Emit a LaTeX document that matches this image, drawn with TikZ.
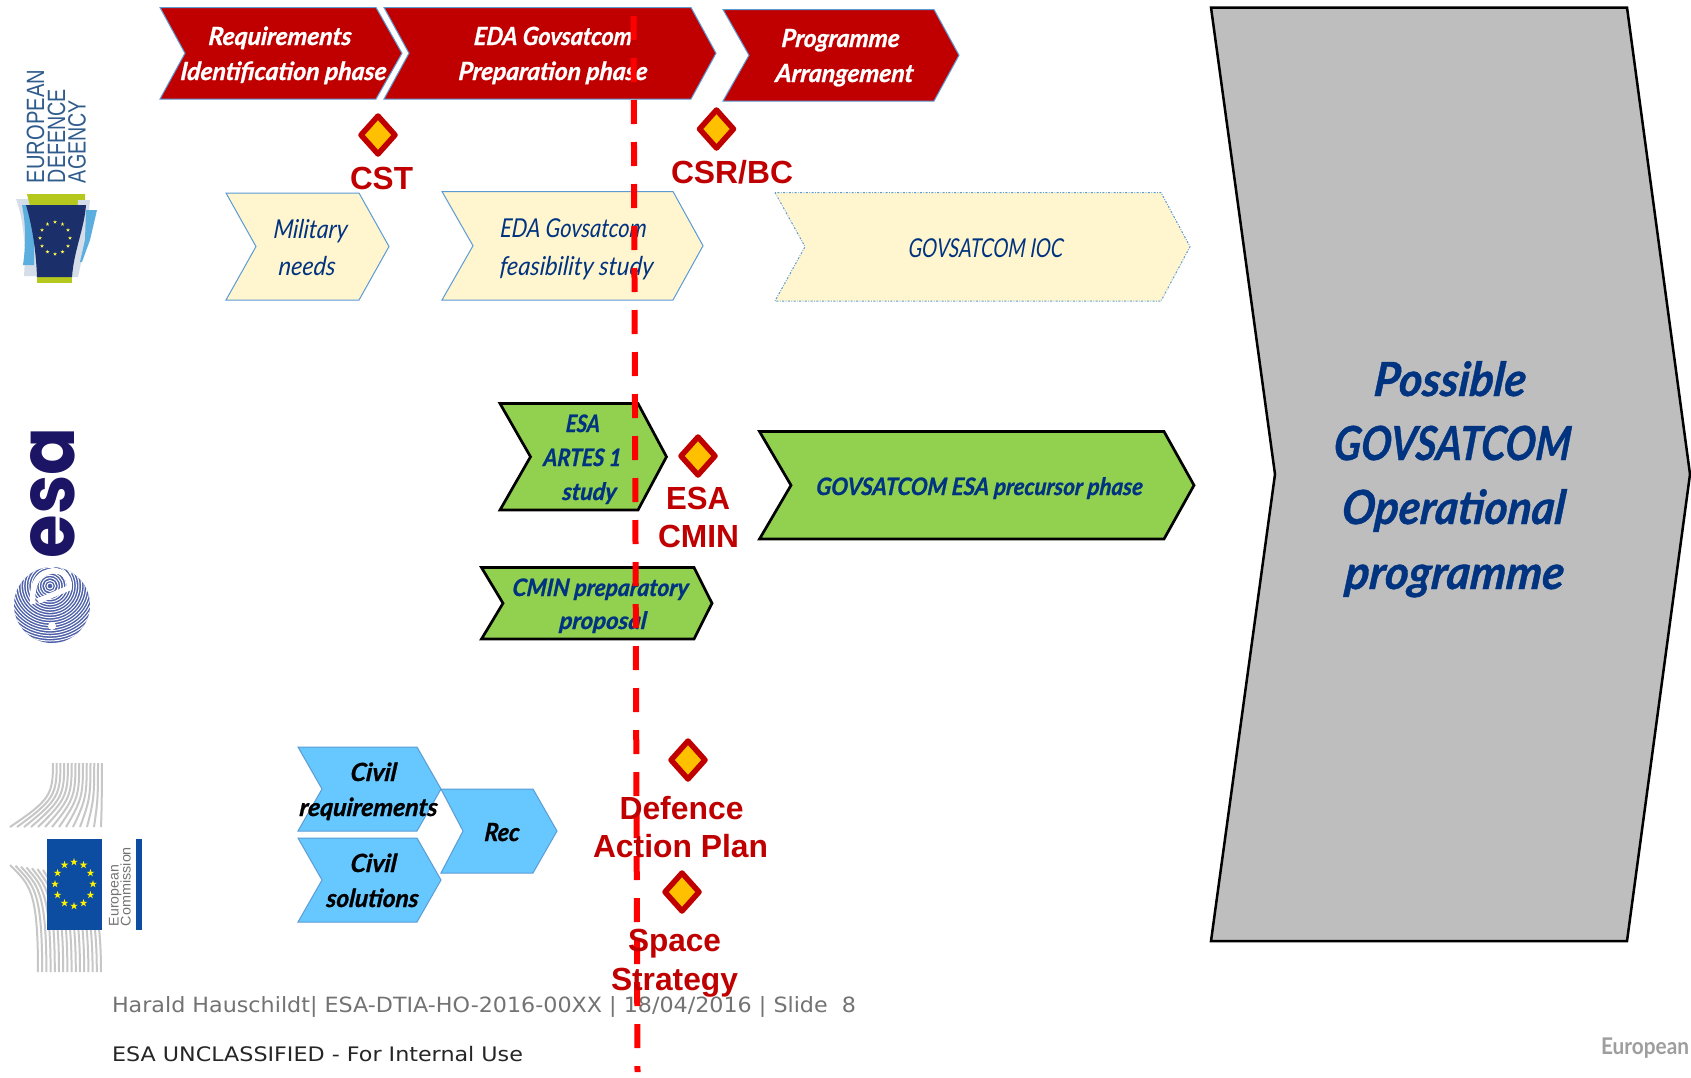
\documentclass[tikz,border=0pt]{standalone}
\usepackage{fontspec}
\usepackage{graphicx}
\setmainfont{Liberation Sans}
\newfontfamily\condf[ItalicFeatures={FakeSlant=0.1},BoldItalicFeatures={FakeSlant=0.1,FakeBold=0.9}]{Lato}
\newfontfamily\footf{DejaVu Sans}
\newfontfamily\esaf{Poppins}
\definecolor{eured}{HTML}{C00000}
\definecolor{navyt}{HTML}{003380}
\definecolor{cream}{HTML}{FFF5CE}
\definecolor{greenf}{HTML}{92D050}
\definecolor{skyf}{HTML}{66C8FF}
\definecolor{thinblue}{HTML}{5B9BD5}
\definecolor{amber}{HTML}{FFC000}
\definecolor{greyf}{HTML}{BEBEBE}
\definecolor{esanavy}{HTML}{1C1464}
\definecolor{esablue}{HTML}{4C5FA8}
\definecolor{ecblue}{HTML}{0C4DA2}
\definecolor{edatext}{HTML}{2F5C8C}
\definecolor{edanavy}{HTML}{1B2F6B}
\definecolor{edagreen}{HTML}{B5C81E}
\definecolor{edasky}{HTML}{5BAEDD}
\definecolor{edapale}{HTML}{D5DDE8}
\tikzset{
 redchev/.style={fill=eured,draw=thinblue,line width=1pt,line join=miter},
 creamchev/.style={fill=cream,draw=thinblue,line width=1pt,line join=miter},
 creamdot/.style={fill=cream,draw=thinblue,line width=1pt,dash pattern=on 2pt off 1.5pt on 0.7pt off 1.5pt},
 greenchev/.style={fill=greenf,draw=black,line width=2.7pt,line join=miter},
 skychev/.style={fill=skyf,draw=thinblue,line width=1pt,line join=miter},
 greychev/.style={fill=greyf,draw=black,line width=2.5pt,line join=miter},
 milestone/.style={fill=amber,draw=eured,line width=5.5pt,line join=round},
 txt/.style={anchor=base,inner sep=0pt,outer sep=0pt},
 wbi/.style={txt,text=white,font=\condf\bfseries\itshape\fontsize{25}{25}\selectfont},
 nvi/.style={txt,text=navyt,font=\condf\itshape\fontsize{26}{26}\selectfont},
 nbi/.style={txt,text=navyt,font=\condf\bfseries\itshape\fontsize{24}{24}\selectfont},
 kbi/.style={txt,text=black,font=\condf\bfseries\itshape\fontsize{25}{25}\selectfont},
 bigt/.style={txt,text=navyt,font=\condf\bfseries\itshape\fontsize{47}{47}\selectfont},
 redl/.style={txt,text=eured,font=\bfseries\fontsize{32}{32}\selectfont},
 foot/.style={txt,anchor=base west,font=\footf\fontsize{21}{21}\selectfont},
 logot/.style={inner sep=0pt,outer sep=0pt,anchor=base west,rotate=90},
 deadline/.style={draw=red,line width=6pt,dash pattern=on 24pt off 18pt},
 ecline/.style={draw=black!22,line width=2pt},
}
% style left notch topright tip top bottom
\newcommand\chev[7]{\path[#1] (#2,#6) -- (#3,{(#6+#7)/2}) -- (#2,#7) -- (#4,#7) -- (#5,{(#6+#7)/2}) -- (#4,#6) -- cycle;}
% name style width cx baseline text
\newcommand\tl[6]{\node[#2] (#1) at (#4,#5) {\resizebox{#3pt}{\height}{#6}};}
\newcommand\mstone[3]{\path[milestone] (#2,#3-19) -- (#2+17,#3) -- (#2,#3+19) -- (#2-17,#3) -- cycle; \coordinate (#1) at (#2,#3);}
\newcommand\estar[4]{\fill[#4] ({#1},{#2}) +(90:#3pt) -- +(234:#3pt) -- +(18:#3pt) -- +(162:#3pt) -- +(306:#3pt) -- cycle;}
\begin{document}
\begin{tikzpicture}[x=1pt,y=-1pt]
\useasboundingbox (0,0) rectangle (1691,1077);
\fill[white] (0,0) rectangle (1691,1077);

% ---- EDA logo
\node[logot,text=edatext,font=\fontsize{25}{25}\selectfont] (edaa) at (44,183) {\resizebox{113pt}{\height}{EUROPEAN}};
\node[logot,text=edatext,font=\fontsize{25}{25}\selectfont] (edab) at (65,183) {\resizebox{94pt}{\height}{DEFENCE}};
\node[logot,text=edatext,font=\fontsize{25}{25}\selectfont] (edac) at (85.5,183) {\resizebox{83pt}{\height}{AGENCY}};
\fill[edapale] (16,199) -- (34,199) -- (38,276) -- (24,276) .. controls (26,250) and (24,220) .. cycle;
\fill[edasky] (22,205) -- (34,205) -- (34,265) -- (23,265) .. controls (26,245) and (26,225) .. cycle;
\fill[edagreen] (27,194) -- (85,194) -- (85,206) -- (30,206) -- cycle;
\fill[edagreen] (37,270) -- (72,270) -- (72,283) -- (37,283) -- cycle;
\fill[edapale] (78,200) -- (90,200) -- (86,240) -- (78,277) -- (70,277) -- (76,240) -- cycle;
\fill[edasky] (86,210) -- (97,210) -- (90,240) -- (82,262) -- (80,262) -- (85,240) -- cycle;
\fill[edanavy] (26,205) -- (86,205) .. controls (84,230) and (74,250) .. (72,277) -- (37,277) .. controls (36,250) and (32,225) .. cycle;
\foreach \a in {0,30,...,330} {\estar{55+15*cos(\a)}{238+16*sin(\a)}{2}{yellow!70!white}}

% ---- ESA logo
\node[logot,text=esanavy,font=\esaf\bfseries\fontsize{60}{60}\selectfont] (esaw) at (74,558) {\resizebox{131pt}{44pt}{esa}};
\begin{scope}
\clip (52,605) circle [radius=38pt];
\fill[esablue] (14,565) rectangle (90,645);
\foreach \r in {3,5.6,...,70} {\draw[white,line width=1pt] (50,586) circle [radius=\r pt];}
\draw[white,line width=5.5pt] (38,601) -- (69,588) .. controls (71,574) and (58,568) .. (48,572) .. controls (36,575) and (31,588) .. (33,604);
\fill[white] (52,626) circle [radius=4pt];
\fill[white] (64,562) -- (72,562) -- (74,572) -- (70,574) -- cycle;
\end{scope}

% ---- EC logo
\foreach \i in {0,...,13} {\draw[ecline] (53+3.75*\i,763) .. controls (53+3.75*\i,795) and (50+4*\i,800) .. (10+7*\i,827);}
\foreach \i in {0,...,15} {\draw[ecline] (10+5.5*\i,865+0.8*\i) .. controls (30+3.6*\i,885) and (38+4.2*\i,890) .. (38+4.2*\i,972);}
\fill[ecblue] (47,839) rectangle (102,930);
\fill[ecblue] (136,839) rectangle (142,930);
\foreach \a in {0,30,...,330} {\estar{74+19*cos(\a)}{884+22*sin(\a)}{4}{yellow}}
\node[logot,text=black!55,font=\fontsize{14}{14}\selectfont] (eca) at (118.5,926) {\resizebox{61pt}{\height}{European}};
\node[logot,text=black!55,font=\fontsize{14}{14}\selectfont] (ecb) at (130.5,926) {\resizebox{79pt}{\height}{Commission}};

% ---- chevrons
\chev{redchev}{160}{185}{376}{402}{7.5}{99}
\chev{redchev}{384}{409}{691}{716}{7.5}{99}
\chev{redchev}{723}{749}{934}{959}{9.5}{101}
\chev{creamchev}{226}{256}{359}{389}{193}{300}
\chev{creamchev}{442}{473}{673}{703}{191.5}{300}
\chev{creamdot}{775}{805}{1161}{1190}{192.5}{301}
\chev{greenchev}{500}{530.5}{638}{666.5}{403.5}{510}
\chev{greenchev}{759.5}{791}{1164}{1194}{431.5}{539}
\chev{greenchev}{481.5}{503}{694}{712}{567.5}{639}
\chev{skychev}{298}{322}{417}{441}{747}{831}
\chev{skychev}{298}{322}{417}{441}{838}{922}
\chev{skychev}{441}{463}{533}{557}{789}{873}
\chev{greychev}{1211}{1275}{1627}{1690}{7.5}{941}

% ---- chevron texts
\tl{t1}{wbi}{143}{279.5}{45}{Requirements}
\tl{t2}{wbi}{206}{283}{80}{Identification phase}
\tl{t3}{wbi}{158}{552.5}{45}{EDA Govsatcom}
\tl{t4}{wbi}{189}{552.5}{80}{Preparation phase}
\tl{t5}{wbi}{118}{840}{47}{Programme}
\tl{t6}{wbi}{138}{844}{82}{Arrangement}
\tl{t7}{nvi}{74}{310}{238}{Military}
\tl{t8}{nvi}{57}{306.5}{275}{needs}
\tl{t9}{nvi}{146.5}{573}{237}{EDA Govsatcom}
\tl{t10}{nvi}{153.5}{576}{275}{feasibility study}
\tl{t11}{nvi}{155}{985.5}{257}{GOVSATCOM IOC}
\tl{t12}{nbi}{34}{582.5}{432}{ESA}
\tl{t13}{nbi}{78}{582}{466}{ARTES 1}
\tl{t14}{nbi}{54}{589}{500}{study}
\tl{t15}{nbi}{326.5}{979}{495}{GOVSATCOM ESA precursor phase}
\tl{t16}{nbi}{176}{600}{596}{CMIN preparatory}
\tl{t17}{nbi}{87}{602.5}{629}{proposal}
\tl{t18}{kbi}{46}{373}{781}{Civil}
\tl{t19}{kbi}{138}{368}{816}{requirements}
\tl{t20}{kbi}{46}{373}{872}{Civil}
\tl{t21}{kbi}{92}{372}{907}{solutions}
\tl{t22}{kbi}{35}{501.5}{841}{Rec}
\tl{t23}{bigt}{152}{1449}{396}{Possible}
\tl{t24}{bigt}{237}{1451.5}{460}{GOVSATCOM}
\tl{t25}{bigt}{223}{1452.5}{524}{Operational}
\tl{t26}{bigt}{219}{1453.5}{589}{programme}

% ---- footer
\node[foot,text=black!55] (f1) at (112,1012) {\resizebox{744pt}{\height}{Harald Hauschildt| ESA-DTIA-HO-2016-00XX | 18/04/2016 | Slide~~8}};
\node[foot,text=black!85,font=\footf\fontsize{20}{20}\selectfont] (f2) at (112,1061) {\resizebox{411pt}{\height}{ESA UNCLASSIFIED - For Internal Use}};
\node[foot,text=black!38,font=\condf\bfseries\fontsize{23}{23}\selectfont] (f3) at (1601,1054) {\resizebox{88pt}{\height}{European}};

% ---- deadline
\coordinate (dtop) at (633.5,16);
\coordinate (dbot) at (637.5,1072);
\draw[deadline] (dtop) -- (dbot);

% ---- milestones and labels
\mstone{m1}{378}{135}
\mstone{m2}{716.5}{129}
\mstone{m3}{698}{456}
\mstone{m4}{688}{760}
\mstone{m5}{682}{892}
\tl{l1}{redl}{63}{381.5}{189.5}{CST}
\tl{l2}{redl}{122}{732}{183}{CSR/BC}
\tl{l3}{redl}{64}{698}{509}{ESA}
\tl{l4}{redl}{81}{698.5}{547}{CMIN}
\tl{l5}{redl}{124}{681.5}{819}{Defence}
\tl{l6}{redl}{175}{680.5}{857}{Action Plan}
\tl{l7}{redl}{93}{674.5}{951}{Space}
\tl{l8}{redl}{127}{674.5}{990}{Strategy}
\end{tikzpicture}
\end{document}
